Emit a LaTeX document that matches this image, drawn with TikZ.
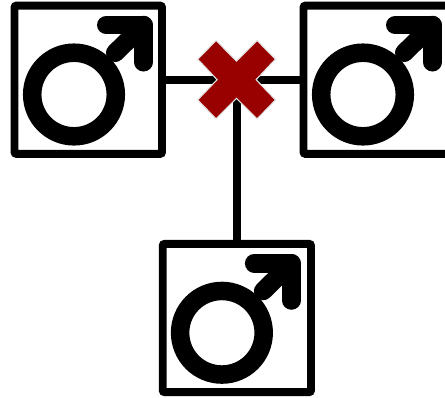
\documentclass[tikz,border=0pt]{standalone}
\definecolor{crossred}{HTML}{990000}
\definecolor{crossedge}{HTML}{E4E4E4}
\tikzset{
  malebox/.style={draw=black,fill=white,line width=7.9pt,rounded corners=2pt,minimum width=147.5pt,minimum height=148.3pt,inner sep=0pt,outer sep=0pt},
  link/.style={draw=black,line width=7.9pt},
  malesym/.pic={
    \draw[black,line width=18.5pt] (-14.25,14.75) circle[radius=41.8];
    \draw[black,line width=18.5pt,line cap=round,line join=round] (27,-27) -- (55.25,-54.75);
    \draw[black,line width=18.5pt,line cap=round,line join=round] (18,-54.75) -- (55.25,-54.75) -- (55.25,-17.5);
  }
}
\begin{document}
\begin{tikzpicture}[x=1pt,y=-1pt]
\useasboundingbox (0,0) rectangle (445,397);
\clip (0,0) rectangle (445,397);
\node[malebox] (a) at (88.25,79.75) {};
\node[malebox] (b) at (377.25,79.75) {};
\node[malebox,minimum width=148.3pt] (c) at (236.85,318) {};
\coordinate (x) at (236.9,79.7);
\draw[link] (a.east |- x) -- (b.west |- x);
\draw[link] (x) -- (x |- c.north);
\pic at (a.center) {malesym};
\pic at (b.center) {malesym};
\pic at ([xshift=-0.7pt]c.center) {malesym};
\path[fill=crossred,draw=crossedge,line width=1.1pt,line join=miter]
  ([shift={(-39.2,-20.5)}]x) -- ([shift={(-20.8,-39.2)}]x) -- ([shift={(-0.4,-18.6)}]x)
  -- ([shift={(20.2,-39.2)}]x) -- ([shift={(38.6,-20.5)}]x) -- ([shift={(19.2,0)}]x)
  -- ([shift={(38.6,20.2)}]x) -- ([shift={(20.2,39.2)}]x) -- ([shift={(-0.4,18.6)}]x)
  -- ([shift={(-20.8,39.2)}]x) -- ([shift={(-39.2,20.2)}]x) -- ([shift={(-19.8,0)}]x) -- cycle;
\end{tikzpicture}
\end{document}
